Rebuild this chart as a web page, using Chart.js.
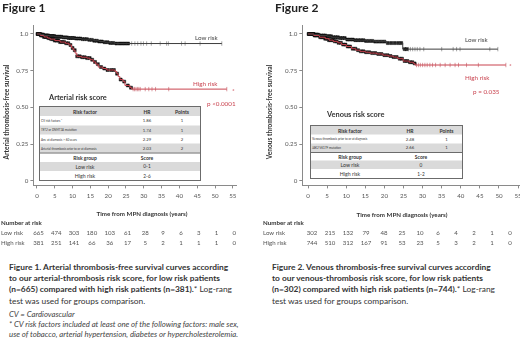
<!DOCTYPE html>
<html>
<head>
<meta charset="utf-8">
<script src="https://cdn.jsdelivr.net/npm/chart.js@4.4.0/dist/chart.umd.min.js"></script>
<style>
  body { margin: 0; background: #fff; }
  #page { position: relative; width: 520px; height: 349px; overflow: hidden; background: #fff;
          font-family: "Lato", "Open Sans", sans-serif; color: #333; }
  .abs { position: absolute; white-space: nowrap; }
  .fig { font-weight: bold; font-size: 12px; color: #222; }
  .ytitle { font-weight: bold; font-size: 6.6px; color: #333; transform: translate(-50%, -50%) rotate(-90deg); }
  .xtitle { font-weight: bold; font-size: 6.2px; color: #333; transform: translate(-50%, -50%); }
  .lbl { font-size: 6.3px; color: #444; transform: translateY(-50%); }
  .red { color: #c9434f; }
  .score { font-weight: bold; font-size: 7.4px; color: #333; transform: translateY(-50%); }
  .cap { font-size: 8.4px; line-height: 11.2px; color: #333; }
  .foot { font-size: 7.8px; line-height: 10px; font-style: italic; color: #444; }
  .tbl { position: absolute; transform: scale(0.5); transform-origin: 0 0; border: 2px solid #6b6b6b;
         box-sizing: border-box; background: #fff; }
  .tr { display: flex; align-items: center; box-sizing: border-box; }
  .tr.shade { background: #dadada; }
  .tr.sep { border-top: 2px solid #6b6b6b; }
  .td { text-align: center; white-space: nowrap; overflow: hidden; color: #333; }
</style>
</head>
<body>
<div id="page">
  <canvas id="c1" width="260" height="250" style="position:absolute;left:0;top:0"></canvas>
  <canvas id="c2" width="270" height="250" style="position:absolute;left:260px;top:0"></canvas>

  <div class="abs fig" style="left:2px;top:0px">Figure 1</div>
  <div class="abs fig" style="left:275px;top:0px">Figure 2</div>

  <div class="abs ytitle" style="left:6px;top:112px">Arterial thrombosis-free survival</div>
  <div class="abs ytitle" style="left:269px;top:112px">Venous thrombosis-free survival</div>
  <div class="abs xtitle" style="left:142px;top:213px">Time from MPN diagnosis (years)</div>
  <div class="abs xtitle" style="left:402px;top:214px">Time from MPN diagnosis (years)</div>

  <div class="abs lbl" style="left:195px;top:37px">Low risk</div>
  <div class="abs lbl red" style="left:193px;top:83px">High risk</div>
  <div class="abs lbl red" style="left:207px;top:103px">p &lt;0.0001</div>
  <div class="abs lbl red" style="left:232px;top:90px">*</div>
  <div class="abs score" style="left:49px;top:97px">Arterial risk score</div>

  <div class="abs lbl" style="left:465px;top:39px">Low risk</div>
  <div class="abs lbl red" style="left:465px;top:77px">High risk</div>
  <div class="abs lbl red" style="left:473px;top:91px">p = 0.035</div>
  <div class="abs lbl red" style="left:509px;top:65px">*</div>
  <div class="abs score" style="left:327px;top:114px">Venous risk score</div>

  <div id="t1"></div>
  <div id="t2"></div>

  <div class="abs cap" style="left:9px;top:262px"><b>Figure 1. Arterial thrombosis-free survival curves according</b><br><b>to our arterial-thrombosis risk score, for low risk patients</b><br><b>(n=665) compared with high risk patients (n=381).</b>* Log-rang<br>test was used for groups comparison.</div>
  <div class="abs foot" style="left:9px;top:309px">CV = Cardiovascular<br>* CV risk factors included at least one of the following factors: male sex,<br>use of tobacco, arterial hypertension, diabetes or hypercholesterolemia.</div>

  <div class="abs cap" style="left:272px;top:262px"><b>Figure 2. Venous thrombosis-free survival curves according</b><br><b>to our venous-thrombosis risk score, for low risk patients</b><br><b>(n=302) compared with high risk patients (n=744).</b>* Log-rang<br>test was used for groups comparison.</div>
</div>

<script>
// axis ticks (same for both panels)
const xTicks = [0, 5, 10, 15, 20, 25, 30, 35, 40, 45, 50, 55];
const yTicks = [0, 0.25, 0.5, 0.75, 1];
const yTickLabels = ["0", "0.25", "0.50", "0.75", "1.0"];

// Figure 1 - arterial, step curves (time in years, survival)
const artLowT = [0, 1.0, 2.0, 3.5, 5.0, 7.0, 8.5, 10.5, 12.5, 14.5, 16.0, 17.5, 19.0, 20.5, 22.0, 51.9];
const artLowS = [1, 0.996, 0.99, 0.986, 0.981, 0.977, 0.973, 0.969, 0.965, 0.96, 0.954, 0.949, 0.944, 0.939, 0.935, 0.935];
const artHighT = [0, 1.0, 2.0, 3.0, 3.7, 5.0, 6.5, 8.0, 9.0, 9.7, 10.2, 10.7, 11.2, 12.5, 14.0, 14.9, 15.8, 16.5, 17.2, 18.5, 19.6, 21.9, 22.4, 22.8, 23.3, 24.2, 24.7, 26.1, 26.6, 53.3];
const artHighS = [1, 0.99, 0.98, 0.972, 0.965, 0.955, 0.945, 0.937, 0.925, 0.905, 0.89, 0.87, 0.848, 0.842, 0.836, 0.825, 0.81, 0.795, 0.775, 0.765, 0.755, 0.745, 0.73, 0.71, 0.69, 0.676, 0.65, 0.635, 0.625, 0.625];
// censored times
const artLowCens = [0.2, 0.5, 0.8, 1.1, 1.4, 1.7, 2.0, 2.3, 2.6, 2.9, 3.2, 3.6, 4.0, 4.4, 4.8, 5.2, 5.6, 6.0, 6.4, 6.9, 7.4, 7.9, 8.4, 8.9, 9.4, 9.9, 10.4, 11.0, 11.6, 12.2, 12.8, 13.4, 14.0, 14.7, 15.4, 16.1, 16.8, 17.5, 18.2, 19.0, 19.8, 20.6, 21.4, 22.3, 23.2, 24.0, 24.8, 25.6];
const artLowCensLate = [26.6, 27.5, 28.3, 29.2, 29.9, 30.8, 32.1, 34.6, 36.4, 36.9, 40.6, 41.6, 45.8, 51.9];
const artHighCens = [0.2, 0.5, 0.8, 1.1, 1.4, 1.7, 2.0, 2.4, 2.8, 3.2, 3.6, 4.0, 4.5, 5.0, 5.5, 6.0, 6.5, 7.0, 7.6, 8.2, 8.8, 9.4, 10.0, 10.6, 11.3, 12.0, 12.7, 13.4, 14.1, 14.8, 15.5, 16.3, 17.1, 18.0, 18.9, 19.8, 20.8, 21.6, 22.5, 23.5, 24.5, 25.5, 26.4];
const artHighCensLate = [27.0, 27.4, 27.8, 28.2, 28.6, 29.0, 30.4, 31.4, 32.3, 33.3, 37.0, 53.3];
const artRiskLow = [665, 474, 303, 180, 103, 61, 28, 9, 6, 3, 1, 0];
const artRiskHigh = [381, 251, 141, 66, 36, 17, 5, 2, 1, 1, 1, 0];

// Figure 2 - venous
const venLowT = [0, 1.5, 3.0, 5.0, 6.2, 8.0, 9.7, 12.0, 15.0, 17.5, 20.6, 24.8, 49.7];
const venLowS = [1, 0.996, 0.99, 0.985, 0.978, 0.972, 0.962, 0.958, 0.953, 0.948, 0.938, 0.897, 0.897];
const venHighT = [0, 1.5, 3.0, 4.5, 5.5, 6.6, 7.8, 8.8, 10.0, 11.4, 12.5, 13.6, 15.0, 16.2, 18.0, 19.6, 21.0, 22.3, 23.5, 24.9, 26.5, 27.6, 28.0, 51.8];
const venHighS = [1, 0.99, 0.978, 0.968, 0.958, 0.95, 0.94, 0.928, 0.915, 0.9, 0.89, 0.882, 0.876, 0.87, 0.864, 0.856, 0.85, 0.843, 0.832, 0.816, 0.808, 0.8, 0.789, 0.789];
const venLowCens = [0.2, 0.6, 1.0, 1.4, 1.8, 2.2, 2.6, 3.0, 3.5, 4.0, 4.5, 5.0, 5.5, 6.0, 6.6, 7.2, 7.8, 8.4, 9.0, 9.6, 10.3, 11.0, 11.7, 12.4, 13.1, 13.8, 14.5, 15.2, 16.0, 16.8, 17.6, 18.4, 19.2, 20.0, 20.9, 21.8, 22.7, 23.6, 24.4, 25.3, 25.8];
const venLowCensLate = [26.3, 26.8, 27.4, 28.0, 28.6, 29.3, 30.3, 35.0, 38.0, 38.9, 39.8, 47.6, 49.7];
const venHighCens = [0.2, 0.5, 0.8, 1.1, 1.4, 1.7, 2.0, 2.4, 2.8, 3.2, 3.6, 4.0, 4.5, 5.0, 5.5, 6.0, 6.5, 7.0, 7.5, 8.0, 8.6, 9.2, 9.8, 10.4, 11.0, 11.7, 12.4, 13.1, 13.8, 14.5, 15.2, 16.0, 16.8, 17.6, 18.4, 19.2, 20.0, 20.8, 21.6, 22.4, 23.2, 24.0, 24.6, 25.3, 26.0, 26.7, 27.3, 27.9];
const venHighCensLate = [28.4, 28.9, 29.4, 30.0, 30.6, 31.2, 31.9, 32.6, 33.4, 34.6, 35.9, 37.2, 38.5, 39.4, 41.5, 44.6, 51.8];
const venRiskLow = [302, 215, 132, 79, 48, 25, 10, 6, 4, 2, 1, 0];
const venRiskHigh = [744, 510, 312, 167, 91, 53, 23, 5, 3, 2, 1, 0];

// risk score tables
const artFactors = ["CV risk factors *", "<i>TET2</i> or <i>DNMT3A</i> mutation", "Age at diagnosis &gt; 60 years", "Arterial thrombosis prior to or at diagnosis"];
const artHR = ["1.86", "1.74", "2.29", "2.03"];
const artPoints = ["1", "1", "2", "2"];
const artGroups = ["Low risk", "High risk"];
const artScores = ["0-1", "2-6"];
const venFactors = ["Venous thrombosis prior to or at diagnosis", "<i>JAK2</i> V617F mutation"];
const venHR = ["2.48", "2.66"];
const venPoints = ["1", "1"];
const venGroups = ["Low risk", "High risk"];
const venScores = ["0", "1-2"];

const LOW_COLOR = "#3d3d3d";
const HIGH_COLOR = "#c9434f";
const AXIS_COLOR = "#8a8a8a";

function stepAt(T, S, t) {
  let v = S[0];
  for (let i = 0; i < T.length; i++) { if (T[i] <= t) v = S[i]; }
  return v;
}
function curve(T, S, color) {
  return { data: T.map((t, i) => ({ x: t, y: S[i] })), stepped: "before", borderColor: color,
           borderWidth: 1, pointRadius: 0, fill: false };
}
function censor(times, T, S, color, dense) {
  return { data: times.map(t => ({ x: t, y: stepAt(T, S, t) })), showLine: false,
           pointStyle: dense ? "rect" : "line", rotation: dense ? 0 : 90,
           pointRadius: dense ? 2.1 : 2.2, borderWidth: dense ? 0.5 : 0.6,
           pointBackgroundColor: color, pointBorderColor: color };
}

const riskPlugin = {
  id: "numberAtRisk",
  afterDraw(chart, args, o) {
    const ctx = chart.ctx, x = chart.scales.x;
    ctx.save();
    ctx.textBaseline = "middle";
    ctx.fillStyle = "#333";
    ctx.textAlign = "left";
    ctx.font = "bold 6.2px Lato";
    ctx.fillText("Number at risk", o.labelX, 223);
    ctx.font = "6.1px Lato";
    ctx.fillStyle = "#555";
    o.rows.forEach((row, r) => {
      const y = 233 + r * 10;
      ctx.textAlign = "left";
      ctx.fillText(row.label, o.labelX, y);
      ctx.textAlign = "center";
      row.values.forEach((v, i) => ctx.fillText(String(v), x.getPixelForValue(xTicks[i] * o.k) + o.dx, y));
    });
    ctx.restore();
  }
};

function makeChart(id, c) {
  return new Chart(document.getElementById(id), {
    type: "line",
    data: { datasets: [
      curve(c.lowT, c.lowS, LOW_COLOR),
      curve(c.highT, c.highS, HIGH_COLOR),
      censor(c.lowCens, c.lowT, c.lowS, "#111", true),
      censor(c.highCens, c.highT, c.highS, "#111", true),
      censor(c.lowLate, c.lowT, c.lowS, "#666", false),
      censor(c.highLate, c.highT, c.highS, "#c25560", false)
    ] },
    plugins: [riskPlugin],
    options: {
      responsive: false, animation: false, events: [],
      layout: { padding: { top: 25.9, right: c.padRight, left: 0, bottom: 0 } },
      plugins: { legend: { display: false }, tooltip: { enabled: false }, numberAtRisk: c.risk },
      scales: {
        x: {
          type: "linear", min: c.xMin, max: c.xMax,
          afterFit: s => { s.height = 64.6; },
          afterBuildTicks: s => { s.ticks = xTicks.map(v => ({ value: v })); },
          grid: { drawOnChartArea: false, tickLength: 3, color: AXIS_COLOR },
          border: { color: AXIS_COLOR },
          ticks: { font: { family: "Lato", size: 6.2 }, color: "#555", padding: 4, maxRotation: 0, autoSkip: false }
        },
        y: {
          min: -0.03, max: 1.055,
          afterFit: s => { s.width = c.yWidth; },
          afterBuildTicks: s => { s.ticks = yTicks.map(v => ({ value: v })); },
          grid: { drawOnChartArea: false, tickLength: 3, color: AXIS_COLOR },
          border: { color: AXIS_COLOR },
          ticks: { font: { family: "Lato", size: 6.2 }, color: "#555", padding: 2,
                   callback: v => yTickLabels[yTicks.indexOf(v)] }
        }
      }
    }
  });
}

makeChart("c1", {
  lowT: artLowT, lowS: artLowS, highT: artHighT, highS: artHighS,
  lowCens: artLowCens, highCens: artHighCens, lowLate: artLowCensLate, highLate: artHighCensLate,
  xMin: -1, xMax: 56, yWidth: 33.4, padRight: 23.6,
  risk: { labelX: 1, k: 1, dx: 1.5, rows: [{ label: "Low risk", values: artRiskLow }, { label: "High risk", values: artRiskHigh }] }
});
makeChart("c2", {
  lowT: venLowT, lowS: venLowS, highT: venHighT, highS: venHighS,
  lowCens: venLowCens, highCens: venHighCens, lowLate: venLowCensLate, highLate: venHighCensLate,
  xMin: -1.5, xMax: 55.5, yWidth: 42.3, padRight: 10,
  risk: { labelX: 3, k: 0.942, dx: 4, rows: [{ label: "Low risk", values: venRiskLow }, { label: "High risk", values: venRiskHigh }] }
});

// tables are built at 2x and scaled down by half
function buildTable(el, left, top, width, rowH, cols, gcols, factors, hr, pts, groups, scores) {
  const rows = [];
  let shade = true;
  const cell = (w, txt, style) => `<div class="td" style="width:${w}px;${style || ""}">${txt}</div>`;
  rows.push(`<div class="tr shade" style="height:${rowH}px">` + cell(cols[0], "Risk factor", "font-weight:bold;font-size:10px") +
            cell(cols[1], "HR", "font-weight:bold;font-size:10px") + cell(cols[2], "Points", "font-weight:bold;font-size:10px") + "</div>");
  factors.forEach((f, i) => {
    shade = !shade;
    rows.push(`<div class="tr${shade ? " shade" : ""}" style="height:${rowH}px">` +
      cell(cols[0], f, "text-align:left;padding-left:2px;box-sizing:border-box;font-size:6px") +
      cell(cols[1], hr[i], "font-size:8.5px") + cell(cols[2], pts[i], "font-size:8.5px") + "</div>");
  });
  rows.push(`<div class="tr sep" style="height:${rowH}px">` + cell(gcols[0], "Risk group", "font-weight:bold;font-size:10px") +
            cell(gcols[1], "Score", "font-weight:bold;font-size:10px") + "</div>");
  groups.forEach((g, i) => {
    rows.push(`<div class="tr${i === 0 ? " shade" : ""}" style="height:${rowH}px">` + cell(gcols[0], g, "font-size:10.5px") +
              cell(gcols[1], scores[i], "font-size:9.5px") + "</div>");
  });
  el.className = "tbl";
  el.style.left = left + "px";
  el.style.top = top + "px";
  el.style.width = width + "px";
  el.innerHTML = rows.join("");
}
buildTable(document.getElementById("t1"), 39, 106, 324, 18.3, [180, 68, 72], [180, 68], artFactors, artHR, artPoints, artGroups, artScores);
buildTable(document.getElementById("t2"), 310, 125, 306, 17.3, [156, 84, 62], [156, 128], venFactors, venHR, venPoints, venGroups, venScores);
</script>
</body>
</html>
